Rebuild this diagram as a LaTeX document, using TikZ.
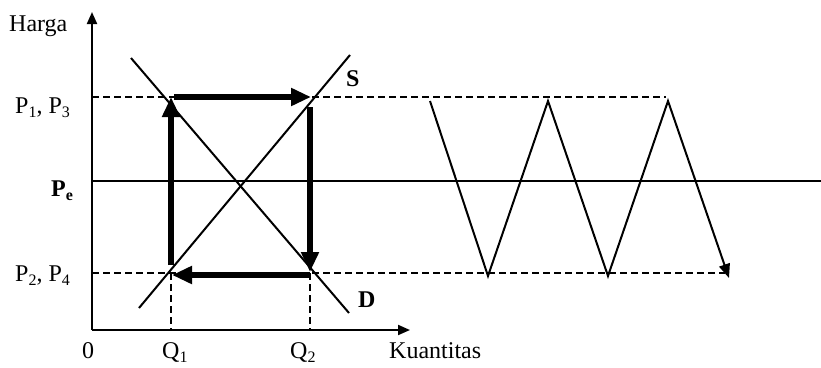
\documentclass[tikz,border=0pt]{standalone}
\usepackage{fontspec}
\setmainfont{Liberation Serif}
\usetikzlibrary{arrows.meta}
\newcommand{\mysub}[1]{\raisebox{-0.2em}{\fontsize{16}{16}\selectfont #1}}
\tikzset{
  thinline/.style={line width=2pt},
  dashline/.style={line width=1.3pt, dash pattern=on 7pt off 4pt},
  thickarr/.style={line width=5.5pt, -{Triangle[length=20pt,width=17pt]}},
  axisarr/.style={line width=2pt, -{Triangle[length=12pt,width=10pt]}},
  lbl/.style={inner sep=0pt, font=\fontsize{24}{26}\selectfont},
  blbl/.style={inner sep=0pt, font=\fontsize{24}{26}\selectfont\bfseries}
}
\begin{document}
\begin{tikzpicture}[x=1pt,y=-1pt]
\useasboundingbox (0,0) rectangle (821,367);
% coordinates
\coordinate (O) at (92,330);
\coordinate (Ytop) at (92,12);
\coordinate (Xend) at (410,330);
\coordinate (PeL) at (92,181);
\coordinate (PeR) at (821,181);
\coordinate (P1L) at (92,97);
\coordinate (P1R) at (666,97);
\coordinate (P2L) at (92,273);
\coordinate (P2R) at (725,273);
\coordinate (Q1top) at (171,273);
\coordinate (Q1bot) at (171,330);
\coordinate (Q2top) at (310,273);
\coordinate (Q2bot) at (310,330);
\coordinate (S0) at (139,308);
\coordinate (S1) at (350,55);
\coordinate (D0) at (131,58);
\coordinate (D1) at (349,313);
\coordinate (A1s) at (171,265);
\coordinate (A1e) at (171,97);
\coordinate (A2s) at (174,97);
\coordinate (A2e) at (311,97);
\coordinate (A3s) at (310,107);
\coordinate (A3e) at (310,272);
\coordinate (A4s) at (310,275);
\coordinate (A4e) at (172,275);
\coordinate (Z0) at (430,101);
\coordinate (Z1) at (488,276);
\coordinate (Z2) at (548,101);
\coordinate (Z3) at (608,276);
\coordinate (Z4) at (668,101);
\coordinate (Z5) at (729,278);
% dashed guides
\draw[dashline] (P1L) -- (P1R);
\draw[dashline] (P2L) -- (P2R);
\draw[dashline] (Q1top) -- (Q1bot);
\draw[dashline] (Q2top) -- (Q2bot);
% axes
\draw[axisarr] (O) -- (Ytop);
\draw[axisarr] (O) -- (Xend);
\draw[thinline] (PeL) -- (PeR);
% supply and demand
\draw[thinline] (S0) -- (S1);
\draw[thinline] (D0) -- (D1);
% cobweb
\draw[thickarr] (A1s) -- (A1e);
\draw[thickarr] (A2s) -- (A2e);
\draw[thickarr] (A3s) -- (A3e);
\draw[thickarr] (A4s) -- (A4e);
% zigzag
\draw[thinline, line join=miter, -{Triangle[length=14pt,width=11pt]}] (Z0) -- (Z1) -- (Z2) -- (Z3) -- (Z4) -- (Z5);
% labels
\node[lbl, anchor=base west] (harga) at (9,31) {Harga};
\node[lbl, anchor=base west] (p13) at (15,113) {P\mysub{1}, P\mysub{3}};
\node[blbl, anchor=base west] (pe) at (51,196) {P\mysub{e}};
\node[lbl, anchor=base west] (p24) at (15,281) {P\mysub{2}, P\mysub{4}};
\node[blbl, anchor=base west] (s) at (346,86) {S};
\node[blbl, anchor=base west] (d) at (358,307) {D};
\node[lbl, anchor=base west] (zero) at (82,358) {0};
\node[lbl, anchor=base west] (q1) at (162,358) {Q\mysub{1}};
\node[lbl, anchor=base west] (q2) at (290,358) {Q\mysub{2}};
\node[lbl, anchor=base west] (kuan) at (389,358) {Kuantitas};
\end{tikzpicture}
\end{document}
